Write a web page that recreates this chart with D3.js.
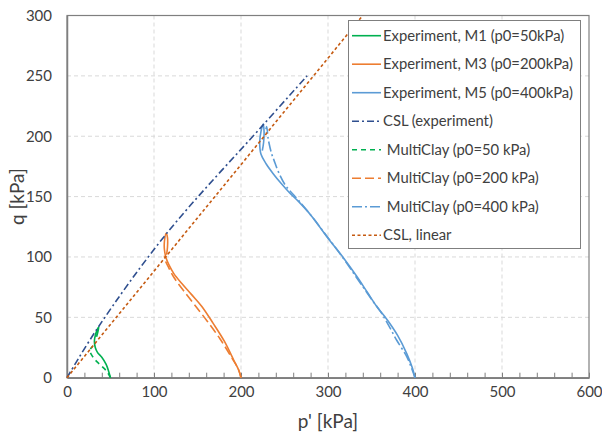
<!DOCTYPE html>
<html lang="en">
  <head>
    <meta charset="utf-8">
    <title>q - p' stress paths</title>
    <script src="https://cdn.jsdelivr.net/npm/d3@7"></script>
    <style>
      body { margin: 0; background: #fff; }
      svg text { font-family: Lato, "Open Sans", sans-serif; fill: #404040; }
    </style>
  </head>
  <body>
    <script>

      // p' [kPa], q [kPa]
      var m1Exp = [[50,0],[48,5],[45,11],[40,17],[35,21],[32.5,25],[31.5,30],[32.5,35],[34.5,39.5],[36.5,42],[35.5,38],[34,34]];
      var m3Exp = [[200,0],[197.5,6],[192,14],[181,30],[168,45],[155,59],[143,69],[132,78],[123,86],[117.5,93],[114,99],[112,106],[112,113],[114,119.5],[115.5,116],[115.5,108],[114.5,102]];
      var m5Exp = [[400,0],[397,8],[390.5,20],[380,35],[368,48],[356,59],[345,71],[333,84],[317,100],[300,115.5],[281,134],[266,146],[256,153],[246,161],[237,169],[229,177],[223,185],[221.5,195],[223,204],[225.5,210],[226.5,204],[226,195],[224.5,188]];
      var m1Mc = [[50,0],[46,5],[40,9.5],[34,13.5],[29.5,17.5],[26.5,21.5],[27,23.8],[29,25.5]];
      var m3Mc = [[200,0],[197,7],[189,17],[176,32],[161,47],[146,61],[133,73],[123,83],[117,91],[113,97],[112,101]];
      var m5Mc = [[400,0],[396,8],[390.5,17.5],[379,31],[370,43],[361.5,53.5],[350,65],[338.5,77],[328,88],[317.5,99],[300,116],[282,133],[266,147],[256,155],[250.5,160],[243,170.5],[238,180],[235,186],[232,195],[231,199],[229.5,208],[228,203]];
      var cslExp = [[0,0],[36,42],[114,119],[225,209],[276,250]];
      var cslLin = [[0,0],[340,300]];

      var xTicks = [0,100,200,300,400,500,600];
      var yTicks = [0,50,100,150,200,250,300];

      var legendLabels = ["Experiment, M1 (p0=50kPa)", "Experiment, M3 (p0=200kPa)", "Experiment, M5 (p0=400kPa)",
                          "CSL (experiment)", " MultiClay (p0=50 kPa)", " MultiClay (p0=200 kPa)",
                          " MultiClay (p0=400 kPa)", "CSL, linear"];

      var w = 602, h = 436;
      var pLeft = 67, pRight = 589, pTop = 15.5, pBottom = 377.7;

      var series = [
        { d: m1Exp, color: "#00b050", dash: null },
        { d: m3Exp, color: "#ed7d31", dash: null },
        { d: m5Exp, color: "#5b9bd5", dash: null },
        { d: cslExp, color: "#2f4f8f", dash: "7,3,2,3" },
        { d: m1Mc, color: "#00b050", dash: "5,4" },
        { d: m3Mc, color: "#ed7d31", dash: "9,4" },
        { d: m5Mc, color: "#5b9bd5", dash: "10,3,2,3" },
        { d: cslLin, color: "#c55a11", dash: "3,2.5" }
      ];

      var x = d3.scaleLinear().domain([0, 600]).range([pLeft, pRight]);
      var y = d3.scaleLinear().domain([0, 300]).range([pBottom, pTop]);

      var svg = d3.select("body").append("svg")
        .attr("width", w)
        .attr("height", h);

      // grid
      svg.append("g")
        .selectAll("line")
        .data(xTicks.slice(1, -1))
        .enter().append("line")
        .attr("x1", function(d) { return x(d); })
        .attr("x2", function(d) { return x(d); })
        .attr("y1", pTop).attr("y2", pBottom)
        .attr("stroke", "#d9d9d9").attr("stroke-dasharray", "4,3");

      svg.append("g")
        .selectAll("line")
        .data(yTicks.slice(1, -1))
        .enter().append("line")
        .attr("x1", pLeft).attr("x2", pRight)
        .attr("y1", function(d) { return y(d); })
        .attr("y2", function(d) { return y(d); })
        .attr("stroke", "#d9d9d9").attr("stroke-dasharray", "4,3");

      // frame
      svg.append("rect")
        .attr("x", pLeft).attr("y", pTop)
        .attr("width", pRight - pLeft).attr("height", pBottom - pTop)
        .attr("fill", "none").attr("stroke", "#7f7f7f").attr("stroke-width", 1.2);

      // x axis with inside minor ticks
      var xAxis = d3.axisBottom(x)
        .tickValues(d3.range(0, 601, 20))
        .tickSizeInner(-5).tickSizeOuter(0)
        .tickFormat(function(d) { return xTicks.indexOf(d) >= 0 ? d : ""; });
      var gx = svg.append("g").attr("transform", "translate(0," + pBottom + ")").call(xAxis);
      gx.select(".domain").attr("stroke", "#7f7f7f").attr("stroke-width", 1.5);
      gx.selectAll(".tick line").attr("stroke", "#7f7f7f");
      gx.selectAll(".tick text").attr("font-size", 15).attr("dy", "1.1em");

      var yAxis = d3.axisLeft(y).tickValues(yTicks).tickSize(0).tickPadding(15);
      var gy = svg.append("g").attr("transform", "translate(" + pLeft + ",0)").call(yAxis);
      gy.select(".domain").attr("stroke", "#7f7f7f").attr("stroke-width", 1.5);
      gy.selectAll(".tick text").attr("font-size", 15);

      // axis titles
      svg.append("text")
        .attr("x", (pLeft + pRight) / 2).attr("y", 428)
        .attr("text-anchor", "middle").attr("font-size", 19)
        .text("p' [kPa]");
      svg.append("text")
        .attr("transform", "translate(24," + (pTop + pBottom) / 2 + ") rotate(-90)")
        .attr("text-anchor", "middle").attr("font-size", 19)
        .text("q [kPa]");

      // curves
      var line = d3.line()
        .x(function(d) { return x(d[0]); })
        .y(function(d) { return y(d[1]); })
        .curve(d3.curveCatmullRom.alpha(0.5));

      svg.append("g")
        .selectAll("path")
        .data(series)
        .enter().append("path")
        .attr("d", function(s) { return line(s.d); })
        .attr("fill", "none")
        .attr("stroke", function(s) { return s.color; })
        .attr("stroke-width", 1.6)
        .attr("stroke-dasharray", function(s) { return s.dash; });

      // legend
      var lg = svg.append("g");
      lg.append("rect")
        .attr("x", 348.5).attr("y", 20.5).attr("width", 232).attr("height", 228)
        .attr("fill", "#fff").attr("stroke", "#7f7f7f");

      var item = lg.selectAll("g")
        .data(series)
        .enter().append("g")
        .attr("transform", function(s, i) { return "translate(0," + (35.7 + i * 28.5) + ")"; });

      item.append("line")
        .attr("x1", 352).attr("x2", 381)
        .attr("stroke", function(s) { return s.color; })
        .attr("stroke-width", 1.6)
        .attr("stroke-dasharray", function(s) { return s.dash; });

      item.append("text")
        .attr("x", 383).attr("dy", "0.35em")
        .attr("font-size", 14.8)
        .style("white-space", "pre")
        .text(function(s, i) { return legendLabels[i]; });

    </script>
  </body>
</html>
